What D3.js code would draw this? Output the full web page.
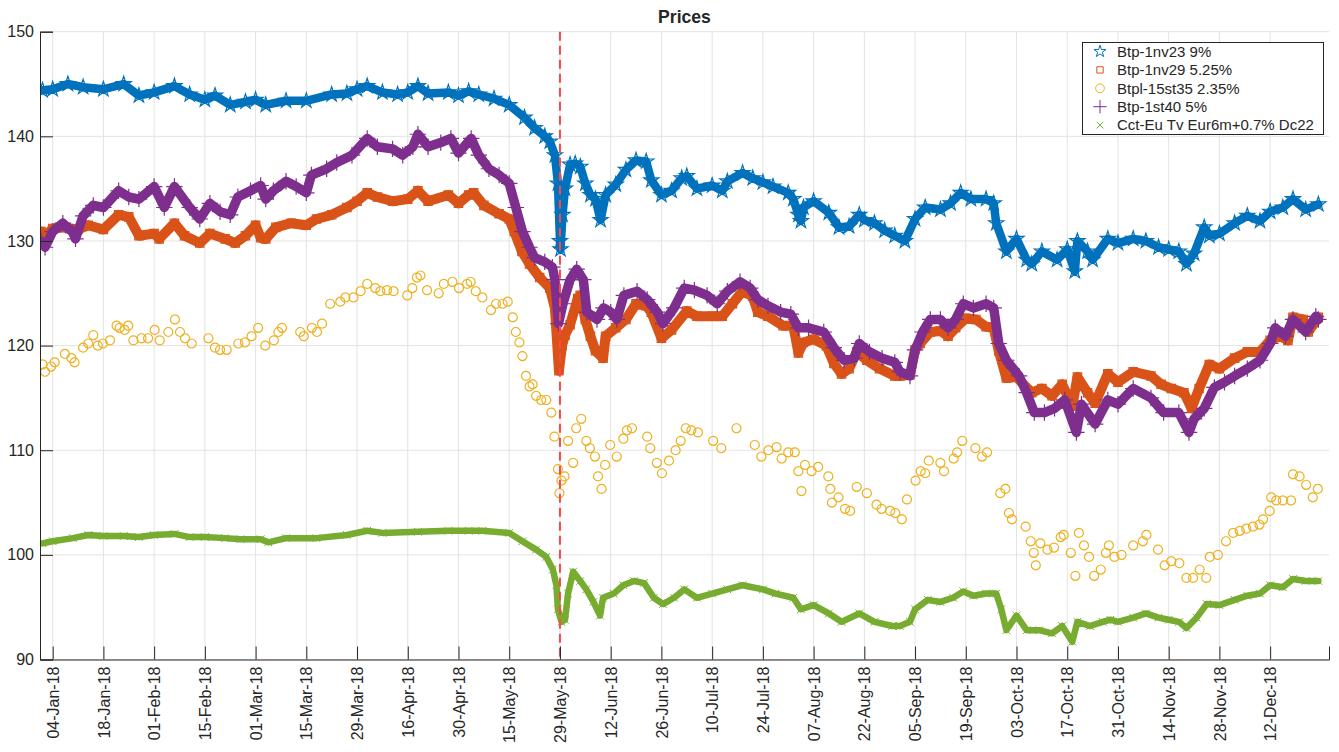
<!DOCTYPE html>
<html>
<head>
<meta charset="utf-8">
<script src="https://cdn.jsdelivr.net/npm/d3@7"></script>
<style>
  html, body { margin: 0; padding: 0; background: #fff; }
  svg { display: block; }
  text { font-family: "Liberation Sans", Arial, Helvetica, sans-serif; fill: #262626; }
</style>
</head>
<body>
<svg id="chart" width="1339" height="752"></svg>
<script>
// ---------------- DATA (x = trading-day index from 02-Jan-18, y = price) ----------------
const tickLabels = ["04-Jan-18","18-Jan-18","01-Feb-18","15-Feb-18","01-Mar-18","15-Mar-18","29-Mar-18",
  "16-Apr-18","30-Apr-18","15-May-18","29-May-18","12-Jun-18","26-Jun-18","10-Jul-18","24-Jul-18",
  "07-Aug-18","22-Aug-18","05-Sep-18","19-Sep-18","03-Oct-18","17-Oct-18","31-Oct-18","14-Nov-18",
  "28-Nov-18","12-Dec-18"];
const tickDays = [2,12,22,32,42,52,62,72,82,92,102,112,122,132,142,152,162,172,182,192,202,212,222,232,242];
const yTicks = [90,100,110,120,130,140,150];
const eventDay = 102; // 29-May-18

const seriesNames = ["Btp-1nv23 9%","Btp-1nv29 5.25%","Btpl-15st35 2.35%","Btp-1st40 5%","Cct-Eu Tv Eur6m+0.7% Dc22"];

const btp23 = [[0,144.4],[2,144.5],[5,145.0],[8,144.7],[12,144.5],[16,145.0],[19,143.9],[22,144.2],[26,144.8],[29,144.0],[32,143.5],[34,143.9],[37,143.0],[40,143.3],[42,143.5],[44,143.0],[48,143.4],[52,143.4],[57,144.0],[60,144.1],[62,144.5],[64,144.8],[67,144.2],[70,144.0],[72,144.2],[74,144.8],[76,144.1],[80,144.2],[82,143.9],[84,144.3],[86,144.0],[89,143.6],[92,143.0],[95,141.8],[97,140.8],[99,140.0],[100,139.5],[101,138.2],[101.6,135.5],[102,130.0],[102.1,129.2],[102.5,132.5],[103,135.0],[104,137.3],[105,137.4],[106,137.1],[107,135.5],[108,134.4],[109,134.0],[110,132.0],[111,134.4],[113,135.4],[115,136.8],[117,137.7],[119,137.6],[120,135.8],[122,134.4],[124,134.8],[126,136.0],[127,136.2],[129,135.0],[132,135.3],[134,134.8],[135,135.7],[138,136.5],[140,136.0],[142,135.6],[144,135.2],[147,134.6],[148,134.0],[149,132.5],[149.5,131.9],[150,133.2],[152,133.8],[155,132.7],[157,131.3],[159,131.4],[161,132.5],[162,132.0],[164,131.7],[166,131.0],[168,130.5],[170,130.0],[172,132.1],[174,133.2],[177,133.0],[179,133.6],[181,134.6],[183,134.0],[186,134.0],[187.5,133.6],[188,131.7],[190,129.0],[192,130.2],[194,128.2],[195,127.8],[197,129.0],[200,128.2],[202,129.2],[203.5,127.1],[204,130.0],[206,129.0],[207,128.2],[210,130.2],[212,129.8],[215,130.2],[217.5,130.0],[220,129.4],[222,129.2],[224,129.0],[225.5,127.8],[227,128.8],[229,131.3],[230,130.5],[232,130.7],[235,131.7],[237.5,132.4],[240,131.9],[242,132.8],[244.5,133.2],[246.5,134.0],[249,133.0],[251.5,133.5]];

const btp29 = [[-0.3,130.9],[0.5,130.4],[2,131.2],[4,131.3],[7,131.1],[9,131.5],[12,131.1],[15,132.5],[17,132.3],[19,130.5],[22,130.7],[23,130.2],[26,131.7],[28,130.5],[31,129.8],[33,130.7],[36,130.2],[38,129.8],[40,130.5],[42,131.5],[43,130.3],[44,130.2],[46,131.3],[49,131.7],[52,131.5],[54,132.1],[57,132.5],[60,133.2],[62,133.8],[64,134.6],[66,134.2],[69,133.8],[72,134.0],[74,134.8],[76,133.8],[80,134.4],[82,133.6],[84,134.4],[85,134.6],[87,133.4],[90,132.6],[92,132.1],[93,130.9],[94.5,129.0],[96,127.8],[98,126.5],[100,125.5],[101,123.6],[101.8,117.6],[102.4,120.0],[103,121.0],[104,122.0],[105.5,124.5],[106,124.8],[107,122.5],[108,120.9],[109,119.5],[110.5,118.8],[111,120.9],[113,121.7],[115,122.5],[117,124.0],[119,123.8],[120,123.2],[122,120.7],[124,121.5],[127,123.3],[129,122.8],[132,122.8],[134,122.8],[136,124.0],[138,125.2],[140,124.7],[141,123.2],[143,122.8],[146,121.9],[148,121.9],[149,119.3],[150,120.3],[152,120.6],[154.5,120.0],[156,118.3],[157.5,117.3],[159,117.8],[160.5,119.4],[162.5,118.6],[165,117.8],[168,117.1],[169,117.1],[171,117.2],[172,119.6],[173,120.2],[175,121.3],[177,121.4],[178.5,120.9],[180,121.7],[182,122.6],[184,122.5],[186,121.8],[187.5,121.7],[188.5,119.5],[190,116.9],[192,117.0],[195,115.5],[197,115.9],[199,115.2],[201,116.3],[203,114.2],[204,117.0],[206,115.5],[207.5,114.5],[210,117.3],[212,116.5],[215,117.5],[218.5,117.1],[220.5,116.3],[222.5,115.9],[225,115.5],[226.5,114.0],[228,115.9],[230,118.2],[232,117.8],[235,118.8],[237.5,119.4],[240,119.4],[242,120.5],[244,120.9],[245.5,120.5],[246.5,122.7],[248.5,122.5],[249.5,121.3],[251.5,122.7]];

const btpl35 = [[0,118.2],[0.5,117.5],[1.7,118.0],[2.4,118.4],[4.4,119.2],[5.7,118.8],[6.3,118.4],[8.0,119.8],[9.0,120.2],[10.0,121.0],[10.9,120.0],[11.9,120.2],[13.3,120.5],[14.6,121.9],[15.2,121.7],[16.2,121.5],[16.9,121.9],[17.9,120.5],[19.5,120.7],[20.8,120.7],[22.1,121.5],[23.1,120.5],[24.8,121.3],[26.1,122.5],[27.1,121.3],[28.1,120.7],[29.4,120.2],[32.7,120.7],[34.0,119.8],[35.0,119.6],[36.3,119.6],[38.6,120.2],[39.9,120.3],[41.2,120.9],[42.5,121.7],[43.9,120.0],[45.6,120.5],[46.5,121.3],[47.2,121.7],[50.8,121.3],[51.5,120.9],[53.1,121.7],[54.1,121.3],[55.1,122.1],[56.7,124.0],[58.7,124.2],[59.7,124.6],[61.3,124.6],[62.7,125.2],[64.0,125.9],[65.6,125.5],[66.6,125.2],[67.9,125.3],[69.2,125.2],[71.9,124.8],[72.9,125.5],[73.8,126.5],[74.5,126.7],[75.8,125.3],[78.1,125.0],[79.1,125.9],[80.8,126.1],[82.1,125.5],[83.7,125.9],[84.4,126.1],[85.4,125.2],[86.7,124.6],[88.4,123.4],[89.4,124.0],[90.7,124.0],[91.7,124.2],[92.7,122.7],[93.3,121.3],[94.0,120.3],[94.6,119.0],[95.3,117.1],[96.0,116.1],[96.6,116.3],[97.3,115.2],[98.3,114.8],[99.3,114.8],[100.3,113.6],[100.9,111.3],[101.6,108.2],[101.9,105.9],[102.3,107.1],[102.9,107.5],[103.6,110.9],[104.6,108.8],[105.2,112.1],[106.2,113.0],[107.2,110.9],[107.9,110.2],[108.9,109.4],[109.5,107.5],[110.2,106.3],[110.9,108.6],[111.9,110.5],[113.2,109.4],[114.5,111.1],[115.2,111.9],[116.2,112.1],[119.2,111.3],[119.8,110.2],[121.1,108.8],[122.1,107.8],[123.5,109.0],[124.8,110.0],[125.8,110.9],[126.8,112.1],[127.9,111.9],[129.2,111.7],[132.2,110.9],[133.8,110.2],[136.8,112.1],[140.4,110.5],[141.7,109.4],[143.1,110.0],[144.7,110.3],[145.7,109.2],[147.0,109.8],[148.3,109.8],[149.0,108.0],[149.6,106.1],[150.3,108.6],[151.6,108.0],[152.9,108.4],[154.9,107.5],[155.3,106.3],[155.6,105.0],[156.9,105.5],[158.2,104.4],[159.2,104.2],[160.5,106.5],[162.5,105.9],[164.4,104.8],[165.4,104.4],[167.1,104.2],[168.1,104.0],[169.4,103.4],[170.4,105.3],[172.1,107.1],[173.1,108.0],[174.0,107.8],[174.7,109.0],[177.0,108.8],[177.7,108.0],[179.6,109.2],[180.3,109.8],[181.3,110.9],[183.9,110.2],[185.2,109.4],[186.2,109.8],[188.8,105.9],[189.8,106.3],[190.5,104.0],[191.1,103.4],[193.8,102.7],[194.8,101.3],[195.4,100.2],[195.8,99.0],[196.7,101.1],[198.1,100.5],[199.4,100.7],[200.7,101.7],[201.3,101.9],[202.7,100.2],[203.6,98.0],[204.3,102.1],[205.3,100.9],[206.3,99.8],[207.3,98.0],[208.6,98.6],[209.6,100.2],[210.2,100.9],[211.3,99.8],[212.7,100.0],[215.0,100.9],[216.9,101.3],[217.6,101.9],[219.9,100.5],[221.2,99.0],[222.5,99.4],[224.1,99.2],[225.5,97.8],[226.8,97.8],[228.1,98.6],[229.4,97.8],[230.1,99.8],[231.7,100.0],[233.3,101.3],[234.7,102.1],[236.0,102.3],[237.3,102.5],[238.6,102.7],[239.9,102.9],[240.6,103.4],[241.9,104.2],[242.2,105.5],[243.2,105.2],[244.5,105.2],[246.1,105.2],[246.5,107.7],[247.8,107.5],[249.1,106.7],[250.4,105.5],[251.4,106.3]];

const btp40 = [[-0.3,130.0],[0.5,129.4],[2,130.9],[4,131.7],[6,130.8],[6.5,130.2],[8,132.4],[10,133.4],[12,133.2],[15,134.8],[17,134.2],[19,134.0],[22,135.2],[24,133.2],[26,135.2],[29,133.2],[31,132.1],[33,133.6],[35,132.8],[37,132.5],[38.5,134.2],[41,134.8],[43,135.3],[44,134.0],[45.5,134.8],[48,135.7],[50,135.2],[52,134.6],[53,136.3],[56,136.9],[58,137.5],[61,138.2],[64,139.8],[66,139.0],[69,138.8],[71,138.2],[73,139.0],[74,140.2],[76,139.0],[78.5,139.4],[80.5,139.8],[82,138.4],[84.5,139.8],[86,138.2],[88,136.9],[90,136.3],[92,135.5],[93.3,133.2],[94.6,130.9],[96,129.4],[97,128.4],[99,128.0],[100.5,127.5],[101,126.3],[101.7,122.1],[102.6,124.0],[104,126.3],[105.3,127.3],[106.6,126.3],[107.3,123.2],[109.3,122.5],[110.6,123.6],[112,123.2],[113.2,122.5],[114.6,124.8],[117.2,125.2],[119.2,124.4],[121.2,123.2],[122.3,122.1],[124.5,123.6],[126.5,125.5],[128.5,125.3],[131,124.8],[133,124.0],[135,125.2],[137.5,126.1],[139.5,125.5],[141,124.4],[143,123.8],[145.5,123.2],[147.5,123.0],[149,121.7],[151,121.7],[154,121.3],[156,119.8],[158,118.6],[160,118.8],[161,120.2],[163,119.4],[165.5,118.8],[168,118.4],[169,117.5],[171,117.1],[172,119.6],[173.5,121.3],[175,122.5],[177,122.5],[178.5,121.7],[180,122.5],[181.5,124.0],[183.5,123.6],[186,124.0],[187.5,123.6],[188.5,120.2],[190,118.6],[192.5,117.1],[194,115.5],[195.5,113.6],[197.5,113.6],[199.5,114.0],[201.5,114.8],[203.8,111.7],[204.8,114.4],[207.5,112.5],[210,114.8],[212,114.4],[215,115.9],[218.5,115.0],[221,113.6],[224,113.6],[226,111.7],[227,113.0],[229,114.0],[231,116.0],[233,116.5],[235,117.1],[237.5,117.8],[240,118.6],[242,120.2],[243,121.7],[245,120.9],[246.5,122.5],[249,121.3],[251,122.8],[251.5,122.5]];

const cct22 = [[0,101.1],[2,101.3],[6,101.6],[9,101.9],[12,101.8],[16,101.8],[19,101.7],[22,101.9],[26,102.0],[29,101.7],[32,101.7],[36,101.6],[39,101.5],[43,101.5],[44.5,101.2],[48,101.6],[54,101.6],[60,101.9],[64,102.3],[67,102.1],[74,102.2],[80,102.3],[84,102.3],[86.7,102.3],[92,102.1],[94.6,101.3],[97.3,100.5],[99.3,99.8],[100.6,98.6],[101.3,97.1],[101.6,94.8],[102.3,93.6],[103,93.8],[103.6,96.3],[104.6,98.4],[106,97.5],[107.2,96.7],[108.6,95.5],[109.9,94.2],[110.5,95.9],[112.6,96.3],[114.5,97.1],[116.6,97.5],[118.6,97.3],[120.5,95.9],[122.3,95.3],[124.5,95.9],[126.5,96.7],[129,95.9],[132,96.3],[135,96.7],[138,97.1],[142,96.7],[144.5,96.3],[148,95.9],[149.5,94.8],[152,95.2],[155,94.4],[157.5,93.6],[161,94.4],[164,93.6],[167.5,93.2],[169,93.2],[171,93.6],[172,94.8],[174.5,95.7],[177,95.5],[179.5,95.9],[181.5,96.5],[183.5,96.1],[186,96.3],[188,96.3],[189,94.8],[190,92.8],[192,94.2],[194,92.8],[196.5,92.8],[199,92.5],[201,93.2],[203,91.7],[204,93.6],[206.5,93.2],[209,93.6],[210.5,93.8],[212,93.6],[215,94.0],[217.5,94.4],[220,94.0],[222,93.8],[224,93.6],[225.5,93.0],[227.5,94.0],[229.5,95.3],[232,95.2],[235,95.7],[237.5,96.1],[240,96.3],[242,97.1],[244.5,96.9],[246.5,97.7],[249,97.5],[251.5,97.5]];

// ---------------- LAYOUT / STYLE ----------------
const W = 1339, H = 752;
const plot = { left: 40, right: 1329, top: 31.7, bottom: 659.5 };
const colors = ["#0072BD", "#D95319", "#EDB120", "#7E2F8E", "#77AC30"];

const svg = d3.select("#chart");
svg.append("rect").attr("width", W).attr("height", H).attr("fill", "#fff");

const x = d3.scaleLinear().domain([-0.5, 253.6]).range([plot.left, plot.right]);
const y = d3.scaleLinear().domain([90, 150]).range([plot.bottom, plot.top]);

// grid
const grid = svg.append("g");
grid.selectAll(".vg").data(tickDays).join("line")
  .attr("x1", d => x(d)).attr("x2", d => x(d))
  .attr("y1", plot.top).attr("y2", plot.bottom)
  .attr("stroke", "#e3e3e3").attr("stroke-width", 1);
grid.selectAll(".hg").data(yTicks).join("line")
  .attr("x1", plot.left).attr("x2", plot.right)
  .attr("y1", d => y(d)).attr("y2", d => y(d))
  .attr("stroke", "#e3e3e3").attr("stroke-width", 1);

// series
svg.append("defs").append("clipPath").attr("id", "clip")
  .append("rect").attr("x", plot.left).attr("y", plot.top)
  .attr("width", plot.right - plot.left).attr("height", plot.bottom - plot.top);
const dataG = svg.append("g").attr("clip-path", "url(#clip)");

const line = d3.line().x(d => x(d[0])).y(d => y(d[1])).curve(d3.curveLinear);

const series = [
  { data: btp23, sym: d3.symbolStar, size: 70, legendSize: 45, band: 8.5, sw: 1.2 },
  { data: btp29, sym: d3.symbolSquare, size: 70, legendSize: 40, band: 10, sw: 1.2 },
  { data: btpl35, sym: d3.symbolCircle, size: 64, legendSize: 60, band: 0, sw: 1.2 },
  { data: btp40, sym: d3.symbolPlus, size: 90, legendSize: 60, band: 9.5, sw: 1.2 },
  { data: cct22, sym: d3.symbolTimes, size: 40, legendSize: 30, band: 6.5, sw: 1 }
];

series.forEach((s, i) => {
  const g = dataG.append("g");
  if (s.band > 0) {
    g.append("path").datum(s.data).attr("d", line)
      .attr("fill", "none").attr("stroke", colors[i])
      .attr("stroke-width", s.band).attr("stroke-linejoin", "round").attr("stroke-linecap", "round");
  }
  g.selectAll("path.m").data(s.data).join("path").attr("class", "m")
    .attr("transform", d => `translate(${x(d[0])},${y(d[1])})`)
    .attr("d", d3.symbol(s.sym, s.size))
    .attr("fill", "none").attr("stroke", colors[i]).attr("stroke-width", s.sw);
});

// event line
svg.append("line")
  .attr("x1", x(eventDay)).attr("x2", x(eventDay))
  .attr("y1", plot.top).attr("y2", plot.bottom)
  .attr("stroke", "#ff4747").attr("stroke-width", 2).attr("stroke-dasharray", "9,5");

// axes
const yAxis = d3.axisLeft(y).tickValues(yTicks).tickSize(-13).tickPadding(6).tickFormat(d3.format("d"));
const yg = svg.append("g").attr("transform", `translate(${plot.left},0)`).call(yAxis);
yg.select(".domain").attr("stroke", "#262626");
yg.selectAll(".tick line").attr("stroke", "#262626");
yg.selectAll("text").attr("font-size", 16).attr("font-family", "Liberation Sans, Arial, sans-serif").attr("fill", "#262626");

const xAxis = d3.axisBottom(x).tickValues(tickDays).tickSize(-13).tickFormat((d, i) => tickLabels[i]);
const xg = svg.append("g").attr("transform", `translate(0,${plot.bottom})`).call(xAxis);
xg.select(".domain").attr("stroke", "#262626");
xg.selectAll(".tick line").attr("stroke", "#262626");
xg.selectAll("text")
  .attr("font-size", 16).attr("font-family", "Liberation Sans, Arial, sans-serif").attr("fill", "#262626")
  .attr("transform", "rotate(-90)")
  .attr("x", -7).attr("y", 0).attr("dy", "0.35em")
  .attr("text-anchor", "end");

// title
svg.append("text").attr("x", (plot.left + plot.right) / 2).attr("y", 23)
  .attr("text-anchor", "middle").attr("font-size", 17.6).attr("font-weight", "bold").text("Prices");

// legend
const lg = svg.append("g");
lg.append("rect").attr("x", 1082.5).attr("y", 42.5).attr("width", 241).attr("height", 92)
  .attr("fill", "#fff").attr("stroke", "#262626").attr("stroke-width", 1);
seriesNames.forEach((name, i) => {
  const cy = 51.5 + i * 18.4;
  lg.append("path").attr("transform", `translate(1100,${cy})`)
    .attr("d", d3.symbol(series[i].sym, series[i].legendSize))
    .attr("fill", "none").attr("stroke", colors[i]).attr("stroke-width", 1);
  lg.append("text").attr("x", 1117).attr("y", cy).attr("dy", "0.35em")
    .attr("font-size", 15).text(name);
});
</script>
</body>
</html>
